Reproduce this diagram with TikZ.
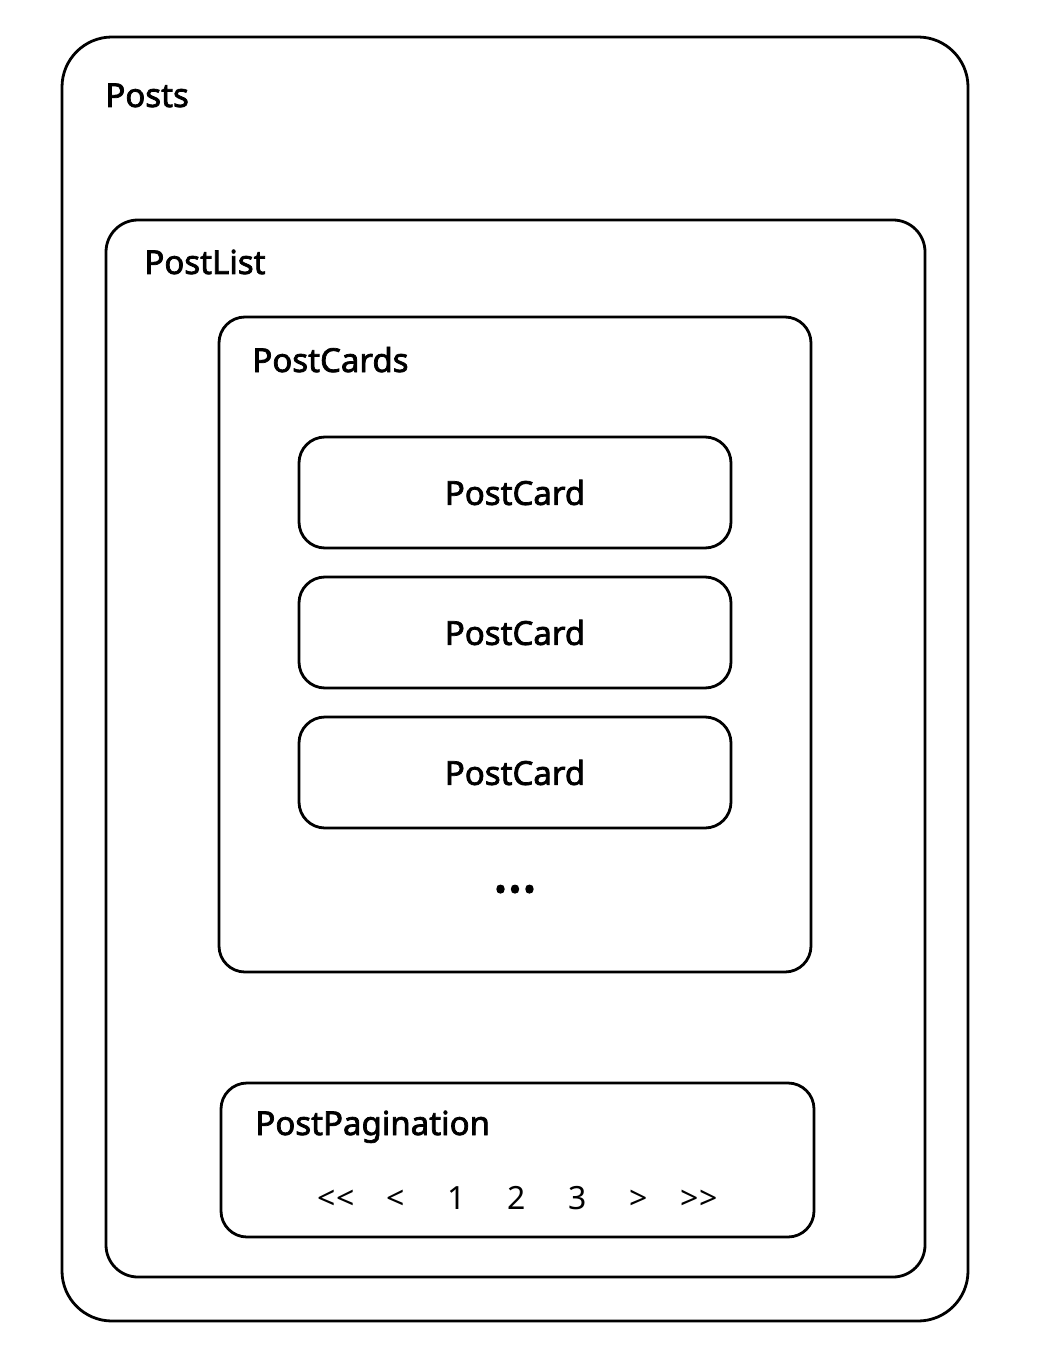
\documentclass[tikz,border=0pt]{standalone}
\usepackage{fontspec}
\setmainfont{Noto Sans}
\newfontfamily\labelfont{Noto Sans}[FakeBold=2.2]
\newfontfamily\dotsfont{Noto Sans}[FakeBold=3]
\tikzset{
	box/.style={draw, line width=1.4pt, rounded corners=#1, inner sep=0pt},
	title/.style={anchor=base west, font=\fontsize{16.5}{18}\labelfont, inner sep=0pt},
	pagelink/.style={anchor=base, font=\fontsize{16}{18}\selectfont, inner sep=0pt}
}
\begin{document}
\begin{tikzpicture}[x=0.5pt,y=-0.5pt]
	\useasboundingbox (0,0) rectangle (1038,1358);

	\node[box=25pt, minimum width=453pt, minimum height=642pt] (posts) at (515,679) {};
	\node[box=16pt, minimum width=409.5pt, minimum height=528.5pt] (postlist) at (515.5,748.5) {};
	\node[box=13pt, minimum width=296pt, minimum height=327.5pt] (postcards) at (515,644.5) {};
	\node[box=13pt, minimum width=296.5pt, minimum height=77pt] (pagination) at (517.5,1160) {};

	\foreach \y [count=\i] in {492.5,632.5,772.5}
		\node[box=13pt, minimum width=216pt, minimum height=55.5pt,
			font=\fontsize{16.5}{18}\labelfont] (card\i) at (515,\y) {PostCard};

	\node[anchor=base, font=\fontsize{27}{30}\dotsfont] (more) at (515,892) {...};

	\node[title] (poststitle) at (105,107) {Posts};
	\node[title] (listtitle) at (144,274) {PostList};
	\node[title] (cardstitle) at (252,372) {PostCards};
	\node[title] (pagetitle) at (255,1135) {PostPagination};

	\foreach \x/\t [count=\i] in {336/{{<}{<}},396/{<},457/1,517/2,578/3,639/{>},699/{{>}{>}}}
		\node[pagelink] (link\i) at (\x,1209) {\t};
\end{tikzpicture}
\end{document}
